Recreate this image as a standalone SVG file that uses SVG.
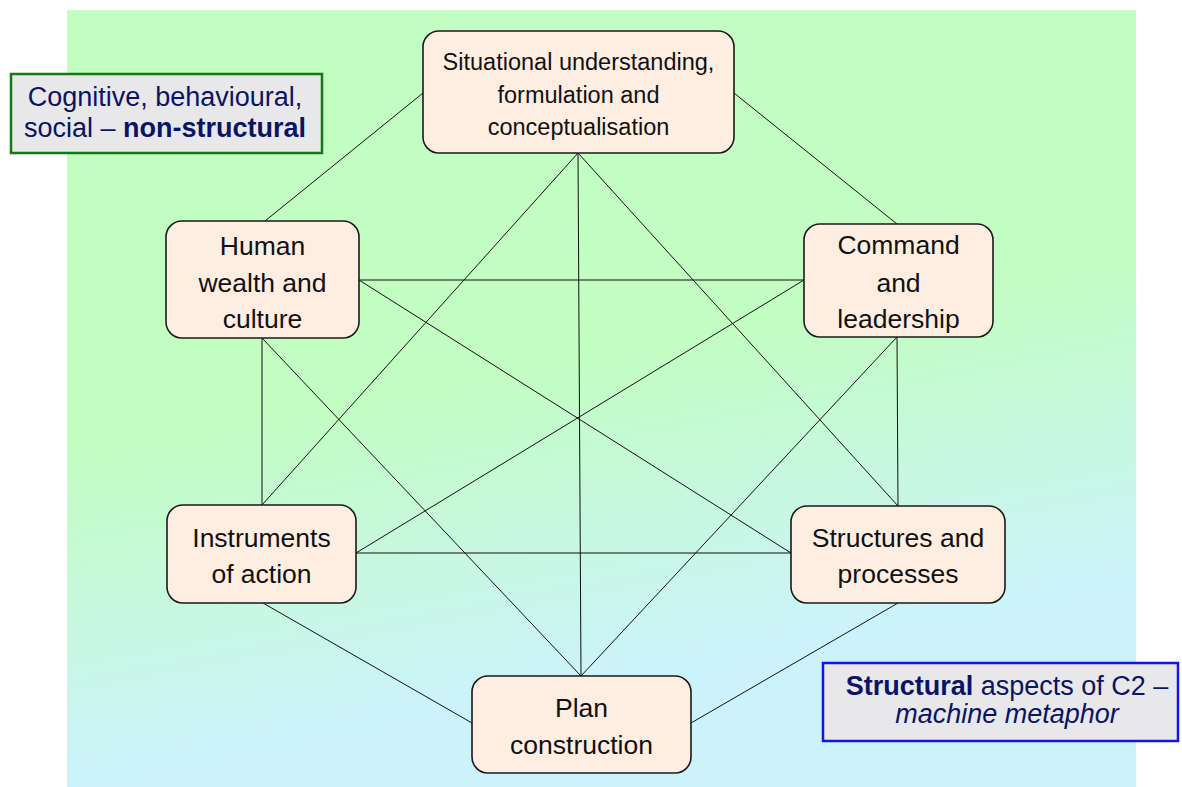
<svg xmlns="http://www.w3.org/2000/svg" width="1182" height="787" viewBox="0 0 1182 787">
  <style>
    .node rect { fill: #FEEEE2; stroke: #1a1a1a; stroke-width: 1.6; }
    .node text { font-family: "Liberation Sans", Arial, sans-serif; font-size: 26.5px; fill: #111; text-anchor: middle; }
    .node.top text { font-size: 23.5px; }
    .conn line { stroke: #111; stroke-width: 1; }
    .label text { font-family: "Liberation Sans", Arial, sans-serif; font-size: 27px; fill: #0B1464; text-anchor: middle; }
  </style>
  <defs>
    <linearGradient id="bg" gradientUnits="userSpaceOnUse" x1="570" y1="360" x2="630" y2="680">
      <stop offset="0" stop-color="#C2FDC2"/>
      <stop offset="1" stop-color="#CCF3FC"/>
    </linearGradient>
  </defs>
  <rect x="0" y="0" width="1182" height="787" fill="#ffffff"/>
  <rect x="67" y="10" width="1069" height="777" fill="url(#bg)"/>

  <g id="connectors" class="conn">
    <line x1="423" y1="93" x2="265" y2="221"/>
    <line x1="734" y1="93" x2="897" y2="224"/>
    <line x1="578" y1="153" x2="262" y2="505"/>
    <line x1="578" y1="153" x2="898" y2="506"/>
    <line x1="578" y1="153" x2="581" y2="676"/>
    <line x1="359" y1="280" x2="804" y2="280"/>
    <line x1="359" y1="280" x2="791" y2="553"/>
    <line x1="356" y1="553" x2="804" y2="280"/>
    <line x1="356" y1="553" x2="791" y2="553"/>
    <line x1="262" y1="338" x2="262" y2="505"/>
    <line x1="897" y1="337" x2="898" y2="506"/>
    <line x1="262" y1="338" x2="581" y2="676"/>
    <line x1="897" y1="337" x2="581" y2="676"/>
    <line x1="263" y1="603" x2="472" y2="723"/>
    <line x1="898" y1="603" x2="691" y2="723"/>
  </g>

  <g id="node-situational" class="node top">
    <rect x="423" y="31" width="311" height="122" rx="16"/>
    <text x="578.5" y="70">Situational understanding,</text>
    <text x="578.5" y="102.5">formulation and</text>
    <text x="578.5" y="135">conceptualisation</text>
  </g>
  <g id="node-human" class="node">
    <rect x="166" y="221" width="193" height="117" rx="16"/>
    <text x="262.5" y="255">Human</text>
    <text x="262.5" y="292">wealth and</text>
    <text x="262.5" y="328">culture</text>
  </g>
  <g id="node-command" class="node">
    <rect x="804" y="224" width="189" height="113" rx="16"/>
    <text x="898.5" y="254">Command</text>
    <text x="898.5" y="292">and</text>
    <text x="898.5" y="328">leadership</text>
  </g>
  <g id="node-instruments" class="node">
    <rect x="167" y="505" width="189" height="98" rx="16"/>
    <text x="261.5" y="547">Instruments</text>
    <text x="261.5" y="583">of action</text>
  </g>
  <g id="node-structures" class="node">
    <rect x="791" y="506" width="214" height="97" rx="16"/>
    <text x="898" y="547">Structures and</text>
    <text x="898" y="583">processes</text>
  </g>
  <g id="node-plan" class="node">
    <rect x="472" y="676" width="219" height="97" rx="16"/>
    <text x="581.5" y="717">Plan</text>
    <text x="581.5" y="754">construction</text>
  </g>

  <g id="label-nonstructural" class="label">
    <rect x="11" y="74" width="311" height="79" fill="#E8E8EA" stroke="#137A13" stroke-width="2.5"/>
    <text x="165" y="106">Cognitive, behavioural,</text>
    <text x="165" y="137">social – <tspan font-weight="bold">non-structural</tspan></text>
  </g>
  <g id="label-structural" class="label">
    <rect x="823" y="663" width="355" height="78" fill="#E8E8EA" stroke="#1414E6" stroke-width="2.5"/>
    <text x="1007" y="695"><tspan font-weight="bold">Structural</tspan> aspects of C2 –</text>
    <text x="1007" y="723" font-style="italic">machine metaphor</text>
  </g>
</svg>
